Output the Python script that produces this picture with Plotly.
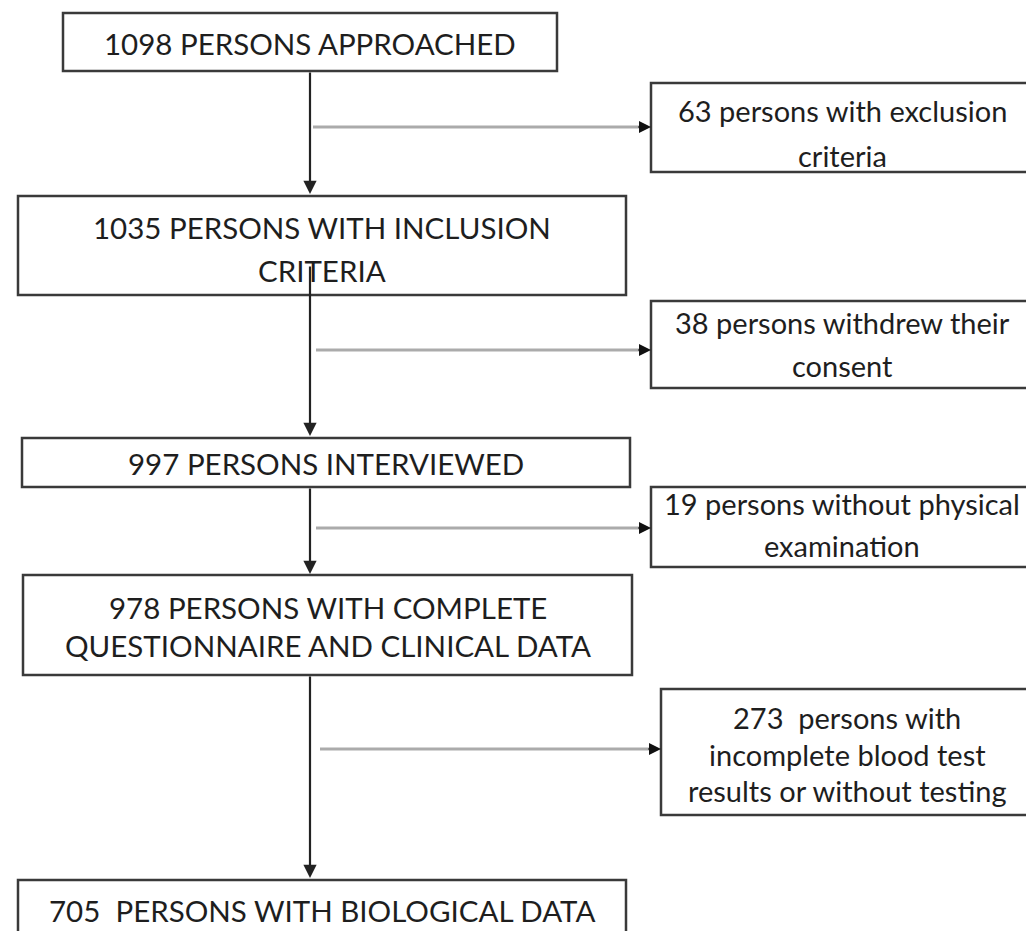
import plotly.graph_objects as go

# ---- data: flow-chart node texts (each entry = list of text lines) ----
main_labels = [
    ["1098 PERSONS APPROACHED"],
    ["1035 PERSONS WITH INCLUSION", "CRITERIA"],
    ["997 PERSONS INTERVIEWED"],
    ["978 PERSONS WITH COMPLETE", "QUESTIONNAIRE AND CLINICAL DATA"],
    ["705  PERSONS WITH BIOLOGICAL DATA"],
]
side_labels = [
    ["63 persons with exclusion", "criteria"],
    ["38 persons withdrew their", "consent"],
    ["19 persons without physical", "examination"],
    ["273  persons with", "incomplete blood test", "results or without testing"],
]

# ---- layout geometry (pixels, y downwards) ----
main_boxes = [(63, 557, 13, 71), (18, 626, 196, 295), (22, 630, 438, 487),
              (23, 632, 575, 675), (18, 626, 880, 945)]
main_text_y = [[43], [227, 270], [463], [607, 645], [910]]
side_boxes = [(651, 1033, 83, 172), (651, 1033, 301, 388), (651, 1033, 487, 567),
              (661, 1033, 689, 815)]
side_text_y = [[110, 155], [322, 365], [503, 545], [717, 754, 790]]
branch_y = [127, 350, 528, 749]
branch_x0 = [313, 316, 316, 320]
spine_x = 310
spine_segments = [(71, 194), (265, 436), (487, 574), (675, 878)]

FONT = "Lato, Calibri, Carlito, sans-serif"
MAIN_SIZE = 29.5
SIDE_SIZE = 29
TEXT_COLOR = "#1e1e1e"
BOX_COLOR = "#3a3a3a"
PAGE_OFFSET = 8  # default body margin of the html page

fig = go.Figure()
shapes = []
annotations = []

for (x0, x1, y0, y1), lines, ys in zip(main_boxes, main_labels, main_text_y):
    shapes.append(dict(type="rect", x0=x0, x1=x1, y0=y0, y1=y1,
                       line=dict(color=BOX_COLOR, width=2.5), fillcolor="white", layer="below"))
    for line, ty in zip(lines, ys):
        annotations.append(dict(x=(x0 + x1) / 2, y=ty, text=line, showarrow=False,
                                xanchor="center", yanchor="middle",
                                font=dict(family=FONT, size=MAIN_SIZE, color=TEXT_COLOR)))

for (x0, x1, y0, y1), lines, ys in zip(side_boxes, side_labels, side_text_y):
    shapes.append(dict(type="rect", x0=x0, x1=x1, y0=y0, y1=y1,
                       line=dict(color=BOX_COLOR, width=2.5), fillcolor="white", layer="below"))
    for line, ty in zip(lines, ys):
        annotations.append(dict(x=(x0 + x1) / 2, y=ty, text=line, showarrow=False,
                                xanchor="center", yanchor="middle",
                                font=dict(family=FONT, size=SIDE_SIZE, color=TEXT_COLOR)))

# horizontal grey branches with black arrowheads
for by, bx0, (sx0, _, _, _) in zip(branch_y, branch_x0, side_boxes):
    shapes.append(dict(type="line", x0=bx0, x1=sx0 - 4, y0=by, y1=by,
                       line=dict(color="#ababab", width=3)))
    annotations.append(dict(x=sx0, y=by, ax=sx0 - 14, ay=by, axref="x", ayref="y",
                            xref="x", yref="y", text="", showarrow=True,
                            arrowhead=2, arrowsize=1.2, arrowwidth=2, arrowcolor="#111"))

# vertical spine arrows
for s0, s1 in spine_segments:
    annotations.append(dict(x=spine_x, y=s1, ax=spine_x, ay=s0, axref="x", ayref="y",
                            xref="x", yref="y", text="", showarrow=True,
                            arrowhead=2, arrowsize=1.2, arrowwidth=2.2, arrowcolor="#222"))

fig.update_layout(
    width=1034, height=931,
    margin=dict(l=0, r=0, t=0, b=0),
    paper_bgcolor="white", plot_bgcolor="white",
    xaxis=dict(range=[PAGE_OFFSET, 1034 + PAGE_OFFSET], visible=False, fixedrange=True),
    yaxis=dict(range=[931 + PAGE_OFFSET, PAGE_OFFSET], visible=False, fixedrange=True),
    shapes=shapes, annotations=annotations, showlegend=False,
)
fig.write_html("out.html")
